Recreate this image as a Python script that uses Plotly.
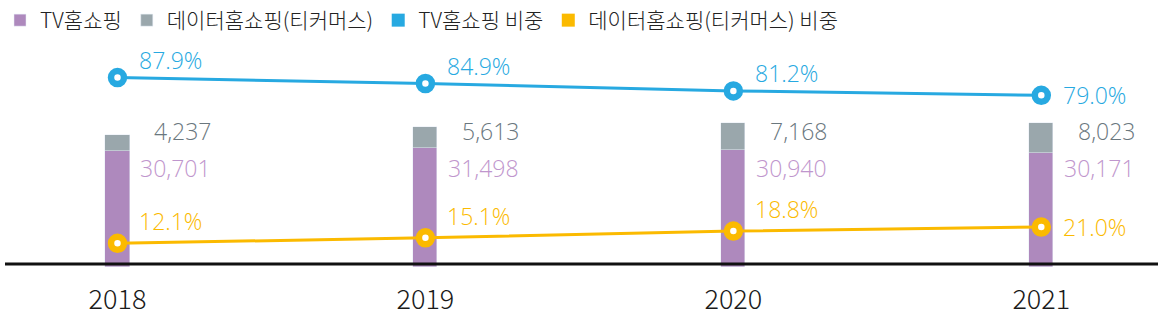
import plotly.graph_objects as go

# Sales by channel (억원) and channel share (%)
years = ["2018", "2019", "2020", "2021"]
tv_sales = [30701, 31498, 30940, 30171]
tcommerce_sales = [4237, 5613, 7168, 8023]
tv_share = [87.9, 84.9, 81.2, 79.0]
tcommerce_share = [12.1, 15.1, 18.8, 21.0]

series_names = ["TV홈쇼핑", "데이터홈쇼핑(티커머스)", "TV홈쇼핑 비중", "데이터홈쇼핑(티커머스) 비중"]

PURPLE = "#AE89BD"
GREY = "#9AA7AC"
BLUE = "#27A9E1"
YELLOW = "#FBBA00"
PURPLE_TXT = "#BF96CD"
GREY_TXT = "#6A777E"

KR_FONT = "Noto Sans CJK KR"
NUM_FONT = "Open Sans"

W, H = 1160, 324
M_L, M_R, M_T, M_B = 5, 2, 40, 57
PLOT_H = H - M_T - M_B

idx = list(range(len(years)))

fig = go.Figure()

# stacked bars
fig.add_trace(go.Bar(x=idx, y=tv_sales, name=series_names[0], marker_color=PURPLE,
                     width=0.078, yaxis="y"))
fig.add_trace(go.Bar(x=idx, y=tcommerce_sales, name=series_names[1], marker_color=GREY,
                     width=0.078, yaxis="y"))

# share lines with ring markers
ring = dict(size=13, color="white")
fig.add_trace(go.Scatter(x=idx, y=tv_share, mode="lines+markers", yaxis="y2",
                         line=dict(color=BLUE, width=3), showlegend=False,
                         marker=dict(ring, line=dict(color=BLUE, width=6.5))))
fig.add_trace(go.Scatter(x=idx, y=tcommerce_share, mode="lines+markers", yaxis="y3",
                         line=dict(color=YELLOW, width=3), showlegend=False,
                         marker=dict(ring, line=dict(color=YELLOW, width=6.5))))

# square legend keys for the share series
for name, col in [(series_names[2], BLUE), (series_names[3], YELLOW)]:
    fig.add_trace(go.Scatter(x=[None], y=[None], mode="markers", name=name,
                             marker=dict(symbol="square", size=13, color=col)))

ann = []
for i in idx:
    # bar value labels
    ann.append(dict(x=i, xref="x", y=(H - M_B - 129) / PLOT_H, yref="paper",
                    text=f"{tcommerce_sales[i]:,}", showarrow=False, xanchor="right",
                    yanchor="middle", xshift=96,
                    font=dict(family=NUM_FONT, size=23, color=GREY_TXT, weight=300)))
    ann.append(dict(x=i, xref="x", y=(H - M_B - 167) / PLOT_H, yref="paper",
                    text=f"{tv_sales[i]:,}", showarrow=False, xanchor="right",
                    yanchor="middle", xshift=96,
                    font=dict(family=NUM_FONT, size=23, color=PURPLE_TXT, weight=300)))
    last = i == idx[-1]
    ann.append(dict(x=i, xref="x", y=tv_share[i], yref="y2", text=f"{tv_share[i]:.1f}%",
                    showarrow=False, xanchor="left", yanchor="middle", xshift=20,
                    yshift=0 if last else 18,
                    font=dict(family=NUM_FONT, size=23, color=BLUE, weight=300)))
    ann.append(dict(x=i, xref="x", y=tcommerce_share[i], yref="y3",
                    text=f"{tcommerce_share[i]:.1f}%", showarrow=False, xanchor="left",
                    yanchor="middle", xshift=20, yshift=0 if last else 22,
                    font=dict(family=NUM_FONT, size=23, color=YELLOW, weight=300)))

fig.update_layout(
    width=W, height=H,
    margin=dict(l=M_L, r=M_R, t=M_T, b=M_B),
    paper_bgcolor="white", plot_bgcolor="white",
    barmode="stack",
    bargap=0,
    showlegend=True,
    legend=dict(orientation="h", x=0, xref="container", y=1, yref="container",
                yanchor="top", xanchor="left", itemwidth=30,
                font=dict(family=KR_FONT, size=21, color="#222222", weight=300),
                traceorder="normal", bgcolor="rgba(0,0,0,0)"),
    xaxis=dict(type="linear", range=[-0.3653, 3.379], tickmode="array", tickvals=idx,
               ticktext=years, showgrid=False, zeroline=False, showline=False,
               ticks="", tickfont=dict(family=KR_FONT, size=27, color="#1A1A1A", weight=300),
               ticklabelstandoff=14),
    yaxis=dict(range=[0, 59300], visible=False, showgrid=False),
    yaxis2=dict(range=[-7.05, 105.2], overlaying="y", visible=False, showgrid=False),
    yaxis3=dict(range=[-0.84, 121.6], overlaying="y", visible=False, showgrid=False),
    annotations=ann,
    shapes=[dict(type="line", xref="paper", yref="paper", x0=0, x1=1,
                 y0=3 / PLOT_H, y1=3 / PLOT_H, line=dict(color="#111111", width=3),
                 layer="above")],
)

fig.write_html("out.html")
